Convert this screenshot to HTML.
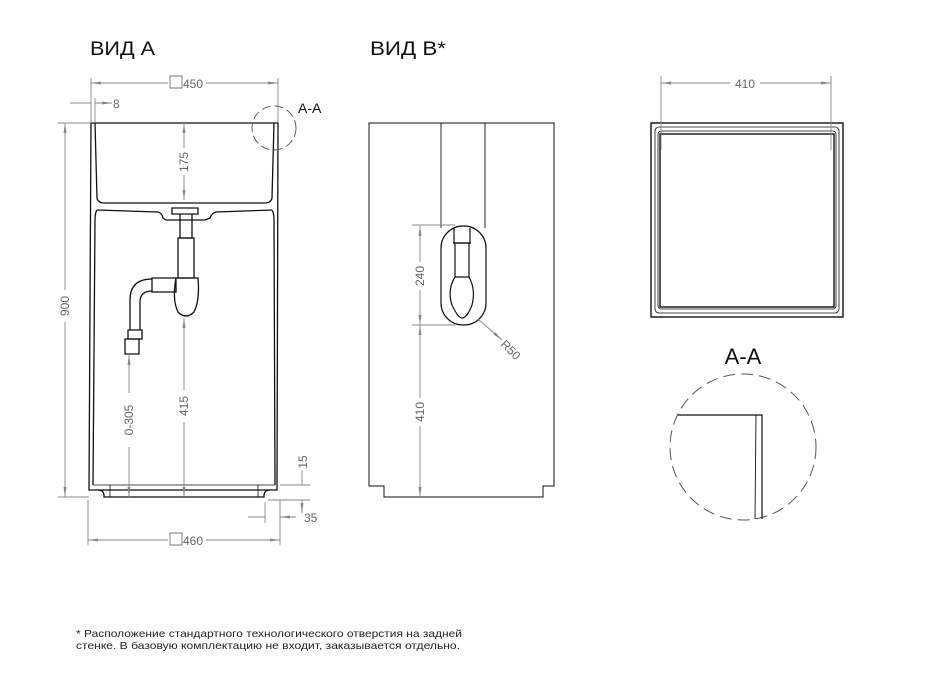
<!DOCTYPE html>
<html><head><meta charset="utf-8"><style>
html,body{margin:0;padding:0;background:#fff}
svg{display:block}
text{font-family:"Liberation Sans","DejaVu Sans",sans-serif}
</style></head><body>
<svg width="926" height="684" viewBox="0 0 926 684" xmlns="http://www.w3.org/2000/svg">
<defs>
<marker id="a" viewBox="0 0 10 6" refX="10" refY="3" markerWidth="10" markerHeight="6" orient="auto-start-reverse" markerUnits="userSpaceOnUse"><path d="M0,1.5L10,3L0,4.5z" fill="#888"/></marker>
</defs>
<text x="90" y="55" font-size="19" fill="#111" textLength="65" lengthAdjust="spacingAndGlyphs">ВИД А</text>
<text x="370" y="55" font-size="19" fill="#111" textLength="76" lengthAdjust="spacingAndGlyphs">ВИД В*</text>

<!-- VIEW A body -->
<g fill="none" stroke="#111" stroke-width="1.3">
<path d="M91,123 L278,123 L277,490 L89,490 Z"/>
<path d="M95,123 L97,198 Q98,203 104,203 L265,203 Q271,203 272,198 L274,123"/>
<path d="M97,210 Q95,213 95,220 L93,485"/>
<path d="M272,210 Q274,213 274,220 L275,485"/>
<path d="M97,210 L158,212 Q162,213 163,218 L166,220 L205,220 L210,218 Q212,213 216,212 L272,210"/>
<path d="M93,485 L275,485" stroke-width="0.8"/>
<path d="M98,490 Q104,490 104,496 L104,497 L264,497 L264,496 Q264,490 270,490"/>
<path d="M110,485 L110,497 M258,485 L258,497" stroke-width="0.8"/>
<!-- siphon -->
<path d="M172,208 L198,208 L198,214 L172,214 Z"/>
<path d="M180,214 L180,238 L192,238 L192,214"/>
<path d="M178,238 L194,238 L194,278 L178,278 Z"/>
<path d="M176,278 L198,278 Q200,300 194,312 Q186,320 178,312 Q172,300 176,278 Z"/>
<path d="M152,278 L176,278 L176,292 L152,292 Z"/>
<path d="M152,279 Q130,279 130,300 L130,330 M152,291 Q140,291 140,302 L140,330"/>
<path d="M128,330 L142,330 L142,339 L128,339 Z"/>
<path d="M125,339 L139,339 L139,354 L125,354 Z"/>
</g>
<!-- dims view A -->
<g stroke="#888" stroke-width="0.9" fill="none">
<path d="M91,78 L91,123 M278,78 L278,123"/>
<path d="M91,83 L168,83 M206,83 L278,83" marker-start="url(#a)" marker-end="url(#a)"/>
<path d="M70,103 L91,103 M95,103 L112,103" marker-end="url(#a)"/>
<path d="M95,98 L95,123"/>
<path d="M58,123 L91,123 M58,497 L89,497"/>
<path d="M65,123 L65,290 M65,322 L65,497" marker-start="url(#a)" marker-end="url(#a)"/>
<path d="M184,123 L184,148 M184,175 L184,200" marker-start="url(#a)" marker-end="url(#a)"/>
<path d="M184,318 L184,390 M184,422 L184,497" marker-start="url(#a)" marker-end="url(#a)"/>
<path d="M129,355 L129,393 M129,447 L129,497" marker-start="url(#a)" marker-end="url(#a)"/>
<path d="M88,500 L88,545 M280,500 L280,545"/>
<path d="M88,540 L168,540 M206,540 L280,540" marker-start="url(#a)" marker-end="url(#a)"/>
<path d="M280,485 L310,485 M268,500 L310,500"/>
<path d="M302,470 L302,485 M302,500 L302,513" marker-end="url(#a)"/>
<path d="M265,502 L265,523 M280,505 L280,523"/>
<path d="M248,517 L265,517 M296,517 L280,517" marker-end="url(#a)"/>
<path d="M170,76 h12 v12 h-12z M170,533 h12 v12 h-12z" stroke="#777"/>
<circle cx="274" cy="128" r="22" stroke="#555" stroke-dasharray="9,4"/>
</g>
<g fill="#666" font-size="12">
<text x="183" y="88">450</text>
<text x="183" y="545">460</text>
<text x="113" y="108">8</text>
<text x="304" y="522">35</text>
<text transform="translate(69,306) rotate(-90)" text-anchor="middle">900</text>
<text transform="translate(188,162) rotate(-90)" text-anchor="middle">175</text>
<text transform="translate(188,406) rotate(-90)" text-anchor="middle">415</text>
<text transform="translate(133,420) rotate(-90)" text-anchor="middle">0-305</text>
<text transform="translate(307,462) rotate(-90)" text-anchor="middle">15</text>
</g>
<text x="298" y="113" font-size="14" fill="#111">А-А</text>

<!-- VIEW B -->
<g fill="none" stroke="#111" stroke-width="1.2">
<path d="M369,123 L554,123 L554,486 L543,486 L543,497 L384,497 L384,486 L369,486 Z" stroke-width="1"/>
<path d="M441,123 L441,228 M485,123 L485,228" stroke-width="0.9"/>
<rect x="441" y="226" width="45" height="99" rx="22"/>
<path d="M454,228 L454,243 L470,243 L470,228"/>
<path d="M453,243 L471,243 M455,243 L455,277 L469,277 L469,243"/>
<path d="M455,277 Q447,290 452,305 Q458,318 462,318 Q467,318 472,305 Q476,290 469,277"/>
</g>
<g stroke="#888" stroke-width="0.9" fill="none">
<path d="M412,225 L455,225 M412,325 L455,325"/>
<path d="M420,226 L420,262 M420,290 L420,325" marker-start="url(#a)" marker-end="url(#a)"/>
<path d="M420,325 L420,398 M420,426 L420,497" marker-start="url(#a)" marker-end="url(#a)"/>
<path d="M478,319 L502,340" marker-end="url(#a)"/>
</g>
<g fill="#666" font-size="12">
<text transform="translate(424,276) rotate(-90)" text-anchor="middle">240</text>
<text transform="translate(424,412) rotate(-90)" text-anchor="middle">410</text>
<text transform="translate(500,345) rotate(45)">R50</text>
</g>

<!-- TOP VIEW -->
<g fill="none" stroke="#111">
<rect x="651" y="123" width="192" height="194" stroke-width="1.4"/>
<rect x="655" y="127" width="184" height="186" rx="4" stroke-width="0.8"/>
<rect x="658" y="131" width="178" height="178" rx="3" stroke-width="0.8"/>
<rect x="660" y="134" width="174" height="173" stroke-width="1.4"/>
</g>
<g stroke="#888" stroke-width="0.9" fill="none">
<path d="M661,76 L661,150 M831,76 L831,150"/>
<path d="M661,83 L730,83 M760,83 L831,83" marker-start="url(#a)" marker-end="url(#a)"/>
</g>
<text x="745" y="88" font-size="12" fill="#666" text-anchor="middle">410</text>

<!-- A-A detail -->
<text x="743" y="364" font-size="22" fill="#111" text-anchor="middle">А-А</text>
<circle cx="743" cy="447" r="73" fill="none" stroke="#555" stroke-width="1" stroke-dasharray="12,6"/>
<g fill="none" stroke="#111" stroke-width="1.2">
<path d="M678,415 L762,415 L762,519"/>
<path d="M756,415 L755,519" stroke-width="0.9"/>
</g>

<text x="76" y="637" font-size="10.5" fill="#222" textLength="386" lengthAdjust="spacingAndGlyphs">* Расположение стандартного технологического отверстия на задней</text>
<text x="76" y="649" font-size="10.5" fill="#222" textLength="384" lengthAdjust="spacingAndGlyphs">стенке. В базовую комплектацию не входит, заказывается отдельно.</text>
</svg>
</body></html>
